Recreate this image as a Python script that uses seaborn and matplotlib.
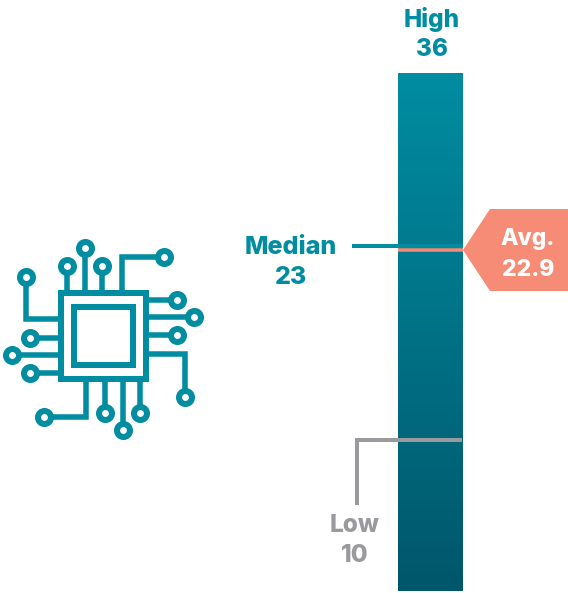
import numpy as np
import seaborn as sns
import matplotlib.pyplot as plt
from matplotlib.colors import LinearSegmentedColormap
from matplotlib.patches import Polygon, Rectangle

# chart values
stat_labels = ['High', 'Median', 'Avg.', 'Low']
stat_values = ['36', '23', '22.9', '10']

# colours
teal = '#008CA1'
teal_dark = '#00566A'
salmon = '#F68C75'
grey = '#9A9A9E'

# icon traces, in picture pixels: each starts at a pin circle
traces = [
    [(26, 277), (26, 319), (58, 319)],
    [(67, 266), (67, 290)],
    [(85, 248), (85, 290)],
    [(102, 266), (102, 290)],
    [(164, 257), (122, 257), (122, 290)],
    [(177, 300), (149, 300)],
    [(194, 317), (149, 317)],
    [(177, 335), (149, 335)],
    [(185, 397), (185, 354), (149, 354)],
    [(140, 413), (140, 382)],
    [(123, 430), (123, 382)],
    [(105, 413), (105, 382)],
    [(44, 417), (86, 417), (86, 382)],
    [(30, 338), (58, 338)],
    [(12, 355), (58, 355)],
    [(30, 373), (58, 373)],
]

W, H = 568, 593
sns.set_theme(style='white')
plt.rcParams['font.family'] = ['Inter', 'DejaVu Sans']

px = 72 / 100
fig = plt.figure(figsize=(W / 100, H / 100), dpi=100)
ax = fig.add_axes([0, 0, 1, 1])
ax.set_xlim(0, W)
ax.set_ylim(H, 0)
ax.axis('off')

# gradient bar
bar = fig.add_axes([398 / W, 1 - 591 / H, 65 / W, 518 / H], zorder=1)
cmap = LinearSegmentedColormap.from_list('bar', [teal, teal_dark])
shade = np.linspace(0, 1, 518).reshape(-1, 1)
sns.heatmap(shade, ax=bar, cmap=cmap, cbar=False, xticklabels=False, yticklabels=False)

# overlay for leaders and text, above the bar
top = fig.add_axes([0, 0, 1, 1], zorder=2)
top.set_xlim(0, W)
top.set_ylim(H, 0)
top.axis('off')
top.patch.set_alpha(0)

top.plot([398, 463], [249.5, 249.5], color=salmon, lw=3.5 * px, solid_capstyle='butt')
top.plot([352, 463], [246, 246], color=teal, lw=4 * px, solid_capstyle='butt')
top.plot([357, 357, 462], [505, 440, 440], color=grey, lw=4 * px,
         solid_capstyle='butt', solid_joinstyle='miter')
top.add_patch(Polygon([(463, 250), (490, 209), (568, 209), (568, 291), (490, 291)],
                      closed=True, fc=salmon, ec='none'))

label_pos = {'High': (432, 19, teal, 17.5), 'Median': (291, 247, teal, 18),
             'Avg.': (528, 239, 'white', 16.5), 'Low': (355, 525, grey, 17.5)}
for lab, val in zip(stat_labels, stat_values):
    x, y, c, fs = label_pos[lab]
    top.text(x, y, lab, color=c, ha='center', va='center', fontsize=fs, fontweight='heavy')
    top.text(x, y + 30.5, val, color=c, ha='center', va='center', fontsize=fs, fontweight='heavy')

# chip icon
top.add_patch(Rectangle((60.5, 293), 85.5, 86, fc='none', ec=teal, lw=6 * px, joinstyle='miter'))
top.add_patch(Rectangle((74, 306.7), 58.7, 58.6, fc='none', ec=teal, lw=6 * px, joinstyle='miter'))
for t in traces:
    xs = [p[0] for p in t]
    ys = [p[1] for p in t]
    top.plot(xs, ys, color=teal, lw=5.5 * px, solid_capstyle='butt', solid_joinstyle='miter')
    top.plot(xs[0], ys[0], 'o', ms=13 * px, mfc='white', mec=teal, mew=6 * px)

fig.savefig('out.png', dpi=100)
